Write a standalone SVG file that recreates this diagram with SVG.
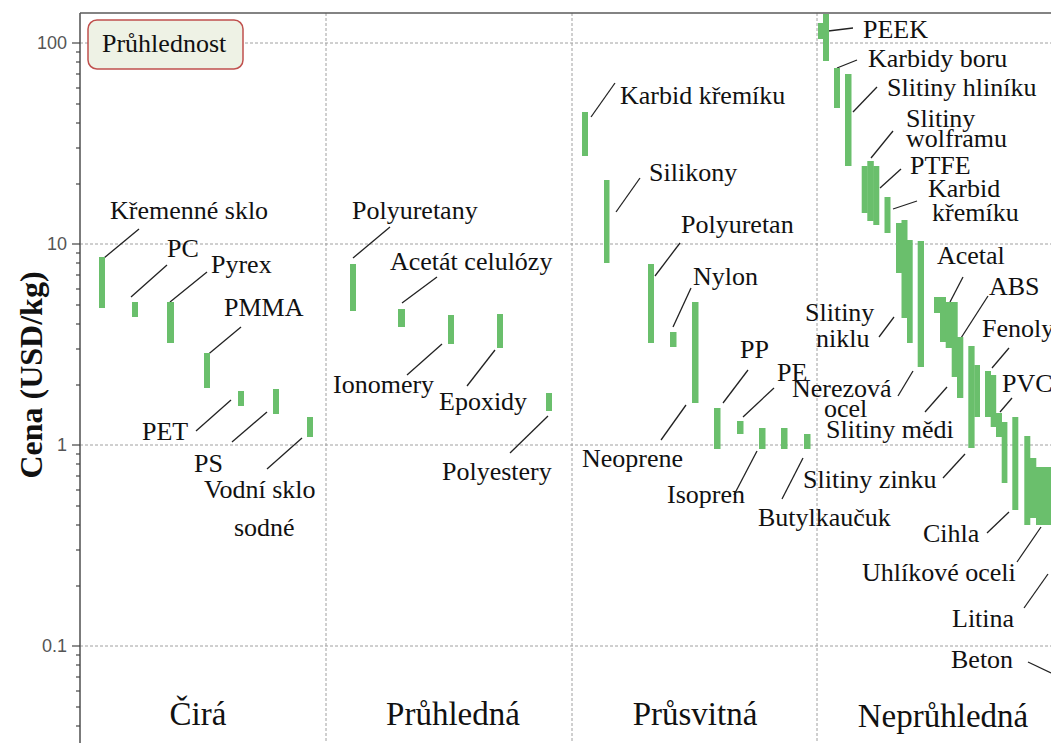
<svg xmlns="http://www.w3.org/2000/svg" width="1051" height="743" viewBox="0 0 1051 743">
  <style>
    .grid { stroke: #a0a0a0; stroke-width: 1; stroke-dasharray: 3 2; fill: none; }
    .axis { stroke: #5a5a5a; stroke-width: 1.6; fill: none; }
    .tick { stroke: #444; stroke-width: 1.2; }
    .tl { font-family: "Liberation Sans", Arial, sans-serif; font-size: 18px; fill: #555; text-anchor: end; }
    .bar { fill: #6abf6c; }
    .lead { stroke: #222; stroke-width: 1.3; fill: none; }
    .lbl { font-family: "Liberation Serif", "Times New Roman", serif; font-size: 26px; fill: #111; }
    .cat { font-family: "Liberation Serif", "Times New Roman", serif; font-size: 33px; fill: #111; text-anchor: middle; }
  </style>
  <rect x="0" y="0" width="1051" height="743" fill="#ffffff"/>

  <!-- grid: decades 100, 10, 1, 0.1 and category separators -->
  <g id="grid">
    <line class="grid" x1="80" y1="43" x2="1051" y2="43"/>
    <line class="grid" x1="80" y1="244" x2="1051" y2="244"/>
    <line class="grid" x1="80" y1="445" x2="1051" y2="445"/>
    <line class="grid" x1="80" y1="646" x2="1051" y2="646"/>
    <line class="grid" x1="326" y1="13" x2="326" y2="743"/>
    <line class="grid" x1="572" y1="13" x2="572" y2="743"/>
    <line class="grid" x1="817" y1="13" x2="817" y2="743"/>
  </g>

  <!-- axes -->
  <g id="axes">
    <line class="axis" x1="80" y1="13" x2="1051" y2="13"/>
    <line class="axis" x1="80" y1="13" x2="80" y2="743"/>
    <!-- major ticks -->
    <line class="tick" x1="72" y1="43" x2="80" y2="43"/>
    <line class="tick" x1="72" y1="244" x2="80" y2="244"/>
    <line class="tick" x1="72" y1="445" x2="80" y2="445"/>
    <line class="tick" x1="72" y1="646" x2="80" y2="646"/>
    <!-- minor ticks: y = 445 - 201*log10(v) -->
    <g class="tick">
      <line x1="76" y1="52" x2="80" y2="52"/><line x1="76" y1="62" x2="80" y2="62"/>
      <line x1="76" y1="74" x2="80" y2="74"/><line x1="76" y1="88" x2="80" y2="88"/>
      <line x1="76" y1="104" x2="80" y2="104"/><line x1="76" y1="123" x2="80" y2="123"/>
      <line x1="76" y1="148" x2="80" y2="148"/><line x1="76" y1="184" x2="80" y2="184"/>
      <line x1="76" y1="253" x2="80" y2="253"/><line x1="76" y1="263" x2="80" y2="263"/>
      <line x1="76" y1="275" x2="80" y2="275"/><line x1="76" y1="289" x2="80" y2="289"/>
      <line x1="76" y1="305" x2="80" y2="305"/><line x1="76" y1="324" x2="80" y2="324"/>
      <line x1="76" y1="349" x2="80" y2="349"/><line x1="76" y1="385" x2="80" y2="385"/>
      <line x1="76" y1="454" x2="80" y2="454"/><line x1="76" y1="464" x2="80" y2="464"/>
      <line x1="76" y1="476" x2="80" y2="476"/><line x1="76" y1="490" x2="80" y2="490"/>
      <line x1="76" y1="506" x2="80" y2="506"/><line x1="76" y1="525" x2="80" y2="525"/>
      <line x1="76" y1="550" x2="80" y2="550"/><line x1="76" y1="586" x2="80" y2="586"/>
      <line x1="76" y1="655" x2="80" y2="655"/><line x1="76" y1="665" x2="80" y2="665"/>
      <line x1="76" y1="677" x2="80" y2="677"/><line x1="76" y1="691" x2="80" y2="691"/>
      <line x1="76" y1="707" x2="80" y2="707"/><line x1="76" y1="726" x2="80" y2="726"/>
    </g>
    <text class="tl" x="67" y="49">100</text>
    <text class="tl" x="67" y="250">10</text>
    <text class="tl" x="67" y="451">1</text>
    <text class="tl" x="67" y="652">0.1</text>
    <text transform="translate(42,375) rotate(-90)" text-anchor="middle" font-family="'Liberation Serif', 'Times New Roman', serif" font-size="32" font-weight="bold" fill="#111">Cena (USD/kg)</text>
  </g>

  <!-- leader lines from labels to bars -->
  <g id="connectors">
    <line class="lead" x1="104" y1="258" x2="139" y2="229"/>
    <line class="lead" x1="131" y1="297" x2="167" y2="265"/>
    <line class="lead" x1="170" y1="302" x2="207" y2="272"/>
    <line class="lead" x1="205" y1="357" x2="241" y2="327"/>
    <line class="lead" x1="196" y1="431" x2="231" y2="400"/>
    <line class="lead" x1="232" y1="442" x2="267" y2="412"/>
    <line class="lead" x1="267" y1="469" x2="302" y2="438"/>
    <line class="lead" x1="353" y1="258" x2="390" y2="227"/>
    <line class="lead" x1="402" y1="303" x2="437" y2="277"/>
    <line class="lead" x1="407" y1="375" x2="442" y2="344"/>
    <line class="lead" x1="467" y1="386" x2="495" y2="350"/>
    <line class="lead" x1="510" y1="453" x2="548" y2="416"/>
    <line class="lead" x1="591" y1="117" x2="615" y2="83"/>
    <line class="lead" x1="616" y1="212" x2="640" y2="178"/>
    <line class="lead" x1="655" y1="276" x2="680" y2="243"/>
    <line class="lead" x1="673" y1="327" x2="691" y2="288"/>
    <line class="lead" x1="661" y1="440" x2="686" y2="405"/>
    <line class="lead" x1="723" y1="403" x2="748" y2="370"/>
    <line class="lead" x1="743" y1="417" x2="774" y2="388"/>
    <line class="lead" x1="734" y1="495" x2="757" y2="451"/>
    <line class="lead" x1="782" y1="499" x2="803" y2="458"/>
    <line class="lead" x1="820" y1="32" x2="853" y2="28"/>
    <line class="lead" x1="837" y1="68" x2="857" y2="60"/>
    <line class="lead" x1="853" y1="112" x2="877" y2="87"/>
    <line class="lead" x1="871" y1="158" x2="893" y2="131"/>
    <line class="lead" x1="880" y1="188" x2="901" y2="169"/>
    <line class="lead" x1="893" y1="209" x2="917" y2="201"/>
    <line class="lead" x1="879" y1="337" x2="894" y2="317"/>
    <line class="lead" x1="898" y1="396" x2="913" y2="371"/>
    <line class="lead" x1="950" y1="302" x2="963" y2="277"/>
    <line class="lead" x1="925" y1="412" x2="947" y2="387"/>
    <line class="lead" x1="961" y1="338" x2="988" y2="296"/>
    <line class="lead" x1="943" y1="478" x2="965" y2="454"/>
    <line class="lead" x1="992" y1="368" x2="1009" y2="348"/>
    <line class="lead" x1="1000" y1="412" x2="1012" y2="398"/>
    <line class="lead" x1="987" y1="533" x2="1009" y2="512"/>
    <line class="lead" x1="1017" y1="562" x2="1041" y2="527"/>
    <line class="lead" x1="1024" y1="608" x2="1048" y2="574"/>
    <line class="lead" x1="1028" y1="662" x2="1051" y2="673"/>
  </g>

  <!-- Čirá -->
  <g id="kremenne-sklo"><rect class="bar" x="99" y="257" width="6" height="51"/><text class="lbl" x="110" y="219">Křemenné sklo</text></g>
  <g id="pc"><rect class="bar" x="132" y="302" width="6" height="15"/><text class="lbl" x="167" y="257">PC</text></g>
  <g id="pyrex"><rect class="bar" x="167" y="302" width="7" height="41"/><text class="lbl" x="211" y="273">Pyrex</text></g>
  <g id="pmma"><rect class="bar" x="204" y="353" width="6" height="35"/><text class="lbl" x="224" y="316">PMMA</text></g>
  <g id="pet"><rect class="bar" x="238" y="391" width="6" height="15"/><text class="lbl" x="142" y="440">PET</text></g>
  <g id="ps"><rect class="bar" x="273" y="389" width="6" height="25"/><text class="lbl" x="194" y="472">PS</text></g>
  <g id="vodni-sklo"><rect class="bar" x="307" y="417" width="6" height="20"/><text class="lbl" x="204" y="498">Vodní sklo</text><text class="lbl" x="234" y="536">sodné</text></g>

  <!-- Průhledná -->
  <g id="polyuretany"><rect class="bar" x="350" y="264" width="6" height="47"/><text class="lbl" x="352" y="219">Polyuretany</text></g>
  <g id="acetat-celulozy"><rect class="bar" x="398" y="309" width="7" height="18"/><text class="lbl" x="390" y="270">Acetát celulózy</text></g>
  <g id="ionomery"><rect class="bar" x="448" y="315" width="6" height="29"/><text class="lbl" x="333" y="393">Ionomery</text></g>
  <g id="epoxidy"><rect class="bar" x="497" y="314" width="6" height="34"/><text class="lbl" x="439" y="410">Epoxidy</text></g>
  <g id="polyestery"><rect class="bar" x="546" y="393" width="6" height="18"/><text class="lbl" x="442" y="480">Polyestery</text></g>

  <!-- Průsvitná -->
  <g id="karbid-kremiku"><rect class="bar" x="582" y="112" width="6" height="44"/><text class="lbl" x="620" y="104">Karbid křemíku</text></g>
  <g id="silikony"><rect class="bar" x="604" y="180" width="5.5" height="83"/><text class="lbl" x="649" y="181">Silikony</text></g>
  <g id="polyuretan"><rect class="bar" x="648" y="264" width="6" height="79"/><text class="lbl" x="681" y="233">Polyuretan</text></g>
  <g id="nylon"><rect class="bar" x="670" y="332" width="6.5" height="15"/><text class="lbl" x="693" y="285">Nylon</text></g>
  <g id="neoprene"><rect class="bar" x="692" y="302" width="6.5" height="101"/><text class="lbl" x="582" y="467">Neoprene</text></g>
  <g id="pp"><rect class="bar" x="714" y="408" width="6.5" height="41"/><text class="lbl" x="740" y="358">PP</text></g>
  <g id="pe"><rect class="bar" x="737" y="421" width="6.5" height="13"/><text class="lbl" x="777" y="381">PE</text></g>
  <g id="isopren"><rect class="bar" x="759" y="428" width="6.5" height="21"/><text class="lbl" x="667" y="503">Isopren</text></g>
  <g id="elastomer"><rect class="bar" x="781" y="428" width="6.5" height="21"/></g>
  <g id="butylkaucuk"><rect class="bar" x="804" y="434" width="6.5" height="15"/><text class="lbl" x="758" y="526">Butylkaučuk</text></g>

  <!-- Neprůhledná -->
  <g id="peek"><rect class="bar" x="818" y="23" width="6" height="16"/><rect class="bar" x="823" y="14" width="6" height="47"/><text class="lbl" x="863" y="38">PEEK</text></g>
  <g id="karbidy-boru"><rect class="bar" x="834" y="68" width="6" height="40"/><text class="lbl" x="868" y="67">Karbidy boru</text></g>
  <g id="slitiny-hliniku"><rect class="bar" x="845" y="74" width="6.5" height="92"/><text class="lbl" x="887" y="96">Slitiny hliníku</text></g>
  <g id="slitiny-wolframu"><rect class="bar" x="861.7" y="166" width="6" height="47"/><rect class="bar" x="867.3" y="161" width="6.5" height="60"/><text class="lbl" x="906" y="127">Slitiny</text><text class="lbl" x="906" y="147">wolframu</text></g>
  <g id="ptfe"><rect class="bar" x="873.3" y="166" width="6" height="59"/><text class="lbl" x="910" y="174">PTFE</text></g>
  <g id="karbid-kremiku-2"><rect class="bar" x="884.5" y="197" width="6" height="36"/><text class="lbl" x="928" y="197">Karbid</text><text class="lbl" x="932" y="221">křemíku</text></g>
  <g id="slitiny-niklu"><rect class="bar" x="896" y="223" width="6" height="50"/><rect class="bar" x="901.5" y="220" width="6" height="98"/><rect class="bar" x="907" y="240" width="5.7" height="103"/><text class="lbl" x="805" y="321">Slitiny</text><text class="lbl" x="816" y="347">niklu</text></g>
  <g id="nerezova-ocel"><rect class="bar" x="917.7" y="241" width="6.3" height="126"/><text class="lbl" x="792" y="397">Nerezová</text><text class="lbl" x="824" y="417">ocel</text></g>
  <g id="acetal"><rect class="bar" x="934" y="297" width="6.3" height="16"/><rect class="bar" x="940" y="297" width="6" height="45"/><rect class="bar" x="945.7" y="302" width="6.3" height="46"/><text class="lbl" x="937" y="264">Acetal</text></g>
  <g id="slitiny-medi"><rect class="bar" x="951.7" y="302" width="6" height="75"/><text class="lbl" x="826" y="438">Slitiny mědi</text></g>
  <g id="abs"><rect class="bar" x="957" y="337" width="6.3" height="61"/><text class="lbl" x="989" y="295">ABS</text></g>
  <g id="slitiny-zinku"><rect class="bar" x="968.3" y="346" width="6.3" height="102"/><rect class="bar" x="974.3" y="365" width="5.7" height="52"/><text class="lbl" x="803" y="488">Slitiny zinku</text></g>
  <g id="fenoly"><rect class="bar" x="985" y="371" width="6" height="46"/><rect class="bar" x="990.7" y="375" width="5.5" height="52"/><text class="lbl" x="982" y="337">Fenoly</text></g>
  <g id="pvc"><rect class="bar" x="996" y="413" width="6" height="24"/><rect class="bar" x="1001.7" y="422" width="5.7" height="61"/><text class="lbl" x="1002" y="392">PVC</text></g>
  <g id="cihla"><rect class="bar" x="1012.3" y="417" width="6" height="93"/><text class="lbl" x="923" y="542">Cihla</text></g>
  <g id="uhlikove-oceli"><rect class="bar" x="1024.3" y="436" width="6" height="89"/><rect class="bar" x="1030" y="458" width="6.3" height="60"/><text class="lbl" x="862" y="581">Uhlíkové oceli</text></g>
  <g id="litina"><rect class="bar" x="1036" y="467" width="15" height="58"/><text class="lbl" x="952" y="627">Litina</text></g>
  <g id="beton"><text class="lbl" x="951" y="668">Beton</text></g>

  <!-- category labels -->
  <g id="categories">
    <text class="cat" x="198" y="725">Čirá</text>
    <text class="cat" x="453" y="725">Průhledná</text>
    <text class="cat" x="695" y="725">Průsvitná</text>
    <text class="cat" x="943" y="727">Neprůhledná</text>
  </g>

  <!-- legend box -->
  <g id="legend">
    <rect x="88" y="20" width="155" height="49" rx="9" fill="#eef2e5" stroke="#c0504d" stroke-width="1.5"/>
    <text class="lbl" x="102" y="52">Průhlednost</text>
  </g>
</svg>
